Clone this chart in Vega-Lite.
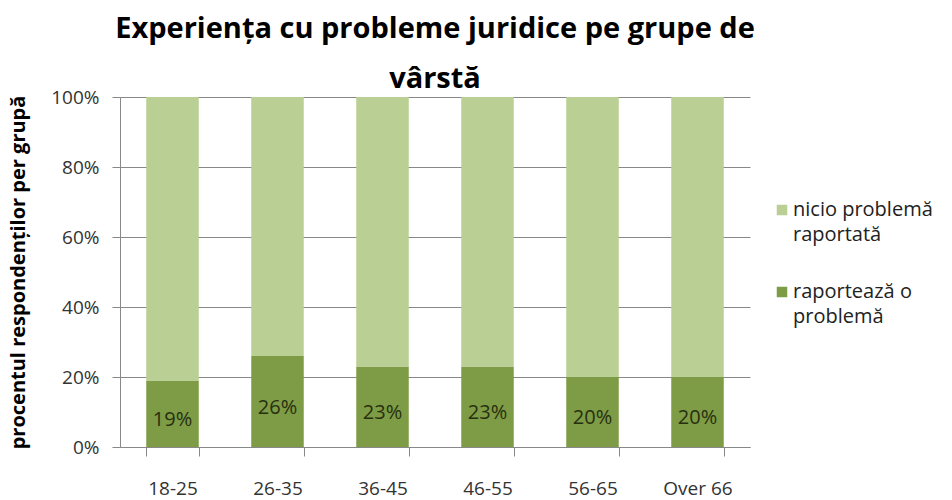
{
  "$schema": "https://vega.github.io/schema/vega-lite/v6.json",
  "width": 630,
  "height": 350,
  "autosize": "none",
  "padding": {"left": 120, "top": 97, "right": 202, "bottom": 53},
  "background": "white",
  "title": {
    "text": ["Experiența cu probleme juridice pe grupe de", "vârstă"],
    "anchor": "middle",
    "font": "Open Sans",
    "fontSize": 29,
    "fontWeight": "bold",
    "color": "#000000",
    "lineHeight": 50,
    "offset": -6
  },
  "config": {
    "view": {"stroke": null},
    "font": "Open Sans"
  },
  "data": {
    "values": [
      {"age": "18-25", "cat": "raportează o problemă", "value": 0.19, "ord": 0},
      {"age": "18-25", "cat": "nicio problemă raportată", "value": 0.81, "ord": 1},
      {"age": "26-35", "cat": "raportează o problemă", "value": 0.26, "ord": 0},
      {"age": "26-35", "cat": "nicio problemă raportată", "value": 0.74, "ord": 1},
      {"age": "36-45", "cat": "raportează o problemă", "value": 0.23, "ord": 0},
      {"age": "36-45", "cat": "nicio problemă raportată", "value": 0.77, "ord": 1},
      {"age": "46-55", "cat": "raportează o problemă", "value": 0.23, "ord": 0},
      {"age": "46-55", "cat": "nicio problemă raportată", "value": 0.77, "ord": 1},
      {"age": "56-65", "cat": "raportează o problemă", "value": 0.20, "ord": 0},
      {"age": "56-65", "cat": "nicio problemă raportată", "value": 0.80, "ord": 1},
      {"age": "Over 66", "cat": "raportează o problemă", "value": 0.20, "ord": 0},
      {"age": "Over 66", "cat": "nicio problemă raportată", "value": 0.80, "ord": 1}
    ]
  },
  "encoding": {
    "x": {
      "field": "age",
      "type": "nominal",
      "sort": null,
      "scale": {"paddingInner": 0.5, "paddingOuter": 0.25},
      "axis": {
        "title": null,
        "labelAngle": 0,
        "labelFont": "Open Sans",
        "labelFontSize": 19,
        "labelColor": "#333333",
        "labelPadding": 23,
        "domainColor": "#888888",
        "tickColor": "#888888",
        "tickBand": "extent",
        "tickSize": 9,
        "grid": false
      }
    }
  },
  "layer": [
    {
      "mark": {"type": "bar"},
      "encoding": {
        "y": {
          "field": "value",
          "type": "quantitative",
          "stack": "zero",
          "scale": {"domain": [0, 1], "nice": false},
          "axis": {
            "title": "procentul respondenților per grupă",
            "titleFont": "Open Sans",
            "titleFontSize": 20,
            "titleFontWeight": "bold",
            "titleColor": "#000000",
            "titlePadding": 22,
            "format": ".0%",
            "values": [0, 0.2, 0.4, 0.6, 0.8, 1],
            "labelFont": "Open Sans",
            "labelFontSize": 19,
            "labelColor": "#333333",
            "labelPadding": 13,
            "domainColor": "#888888",
            "tickColor": "#888888",
            "tickSize": 8,
            "gridColor": "#888888",
            "gridWidth": 1
          }
        },
        "color": {
          "field": "cat",
          "type": "nominal",
          "scale": {
            "domain": ["nicio problemă raportată", "raportează o problemă"],
            "range": ["#b9cf93", "#7e9b45"]
          },
          "legend": {
            "title": null,
            "orient": "none",
            "legendX": 652,
            "legendY": 103,
            "symbolType": "square",
            "symbolSize": 110,
            "symbolStrokeWidth": 0,
            "labelFont": "Open Sans",
            "labelFontSize": 20,
            "labelColor": "#222222",
            "labelLimit": 300,
            "rowPadding": 37,
            "labelBaseline": "alphabetic",
            "labelOffset": 1,
            "labelExpr": "datum.label == 'nicio problemă raportată' ? ['nicio problemă', 'raportată'] : ['raportează o', 'problemă']",
            "encode": {
              "labels": {
                "update": {
                  "lineHeight": {"value": 25},
                  "dy": {"value": 6}
                }
              }
            }
          }
        },
        "order": {"field": "ord", "type": "quantitative"}
      }
    },
    {
      "transform": [
        {"filter": "datum.ord == 0"},
        {"calculate": "datum.value / 2", "as": "mid"}
      ],
      "mark": {"type": "text", "font": "Open Sans", "fontSize": 20, "color": "#26300f", "dy": 6},
      "encoding": {
        "y": {"field": "mid", "type": "quantitative"},
        "text": {"field": "value", "type": "quantitative", "format": ".0%"}
      }
    }
  ]
}
